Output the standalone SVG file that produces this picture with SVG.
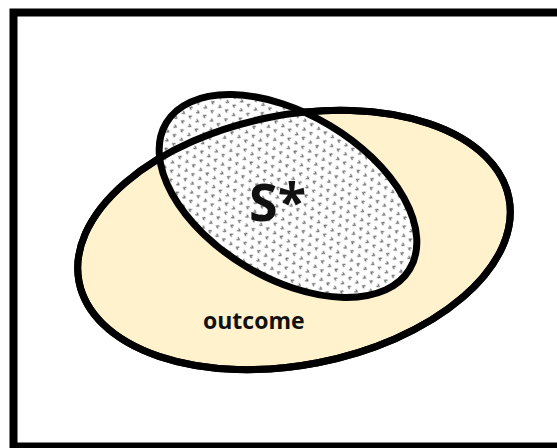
<svg xmlns="http://www.w3.org/2000/svg" width="557" height="448" viewBox="0 0 557 448">
  <style>
    .shape { stroke: #000; stroke-width: 7; }
    .label { font-family: "Open Sans", "DejaVu Sans", sans-serif; font-weight: bold; fill: #111; }
  </style>
  <defs>
    <pattern id="dots" width="16" height="16" patternUnits="userSpaceOnUse">
      <rect width="16" height="16" fill="#fff"/>
      <g fill="none" stroke="#6a6a6a" stroke-width="1.3">
        <path d="M4.6 1 L2.4 2.5 L4.6 4"/>
        <path d="M10.4 1 L12.6 2.5 L10.4 4"/>
        <path d="M6.4 9 L8.6 10.5 L6.4 12"/>
        <path d="M0.6 9 L-1.6 10.5 L0.6 12"/>
        <path d="M16.6 9 L14.4 10.5 L16.6 12"/>
      </g>
    </pattern>
  </defs>
  <rect x="0" y="0" width="557" height="448" fill="#fff"/>
  <rect id="frame" x="13.5" y="12.5" width="560" height="434" fill="#fff" stroke="#000" stroke-width="8"/>
  <g id="outcome">
    <ellipse class="shape" cx="294" cy="240" rx="219" ry="125" transform="rotate(-11 294 240)" fill="#FFF2CC"/>
    <text class="label" x="203" y="329" font-size="23">outcome</text>
  </g>
  <g id="s-star">
    <ellipse class="shape" cx="288" cy="196" rx="142" ry="82" transform="rotate(31 288 196)" fill="url(#dots)"/>
    <text class="label" x="249" y="221" font-size="52">S*</text>
  </g>
  <g id="outcome-outline">
    <ellipse cx="294" cy="240" rx="219" ry="125" transform="rotate(-11 294 240)" fill="none" stroke="#000" stroke-width="7"/>
  </g>
  <g id="connectors"/>
</svg>
